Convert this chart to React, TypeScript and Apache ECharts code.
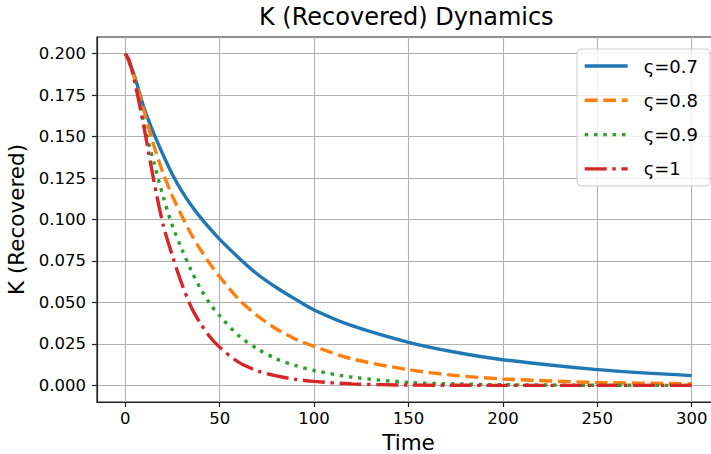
import React, { useEffect, useRef } from "react";
import * as echarts from "echarts";

const TIME = [0, 2, 5, 10, 15, 20, 25, 30, 35, 40, 45, 50, 60, 70, 80, 90, 100, 120, 150, 175, 200, 250, 300];
const K_07 = [0.2, 0.195, 0.186, 0.167, 0.152, 0.139, 0.127, 0.117, 0.1085, 0.101, 0.0943, 0.088, 0.077, 0.067, 0.059, 0.052, 0.0455, 0.036, 0.026, 0.02, 0.0155, 0.0095, 0.0059];
const K_08 = [0.2, 0.195, 0.185, 0.165, 0.145, 0.128, 0.114, 0.102, 0.091, 0.0815, 0.073, 0.0655, 0.052, 0.042, 0.034, 0.028, 0.0235, 0.016, 0.0095, 0.006, 0.0039, 0.0018, 0.001];
const K_09 = [0.2, 0.195, 0.184, 0.157, 0.135, 0.114, 0.096, 0.082, 0.069, 0.058, 0.049, 0.042, 0.03, 0.022, 0.016, 0.012, 0.009, 0.005, 0.0018, 0.0009, 0.0004, 0.0001, 0.0];
const K_10 = [0.2, 0.196, 0.183, 0.155, 0.124, 0.097, 0.078, 0.061, 0.047, 0.037, 0.029, 0.023, 0.014, 0.0088, 0.0057, 0.0037, 0.0024, 0.0009, 0.0002, 0.0001, 0, 0, 0];

const SERIES_NAMES = ["ς=0.7", "ς=0.8", "ς=0.9", "ς=1"];
const X_TICKS = [0, 50, 100, 150, 200, 250, 300];
const Y_TICKS = [0, 0.025, 0.05, 0.075, 0.1, 0.125, 0.15, 0.175, 0.2];

const COLORS = ["#1f77b4", "#ff7f0e", "#2ca02c", "#d62728"];
const FONT = "DejaVu Sans";

export default function App() {
  const ref = useRef<HTMLDivElement>(null);
  useEffect(() => {
    if (!ref.current) return;
    const chart = echarts.init(ref.current, undefined, { renderer: "svg" });
    const values = [K_07, K_08, K_09, K_10];
    const dashes: any[] = ["solid", [12.9, 5.6], [3.5, 5.8], [22, 5.6, 3.5, 5.6]];
    const option: any = {
      animation: false,
      backgroundColor: "#ffffff",
      title: {
        text: "K (Recovered) Dynamics",
        left: 259,
        top: 5,
        padding: 0,
        textStyle: { fontFamily: FONT, fontSize: 24, fontWeight: "normal", color: "#000" },
      },
      grid: {
        left: 97,
        top: 37,
        width: 623,
        height: 365,
        show: true,
        borderColor: "#222",
        borderWidth: 1.2,
        containLabel: false,
        outerBoundsMode: "none",
      },
      legend: {
        orient: "vertical",
        left: 577,
        top: 49,
        padding: [8, 12, 8, 6],
        itemWidth: 43,
        itemHeight: 14,
        itemGap: 16.3,
        backgroundColor: "rgba(255,255,255,0.8)",
        borderColor: "#cccccc",
        borderWidth: 1,
        borderRadius: 4,
        data: SERIES_NAMES,
        itemStyle: { color: "rgba(0,0,0,0)", borderColor: "rgba(0,0,0,0)", borderWidth: 0, opacity: 0 },
        lineStyle: { width: 3.4 },
        textStyle: { fontFamily: FONT, fontSize: 18, color: "#000", padding: [0, 0, 0, 11] },
      },
      xAxis: {
        type: "value",
        min: -15,
        max: 315,
        name: "Time",
        nameLocation: "middle",
        nameGap: 29,
        nameTextStyle: { fontFamily: FONT, fontSize: 21.5, color: "#000" },
        axisLine: { show: true, onZero: false, lineStyle: { color: "#222", width: 1.2 } },
        axisTick: { show: true, length: 5, lineStyle: { color: "#222", width: 1.2 }, customValues: X_TICKS },
        axisLabel: {
          customValues: X_TICKS,
          fontFamily: FONT,
          fontSize: 16.5,
          color: "#000",
          margin: 8,
          formatter: (v: number) => String(v),
        },
        splitLine: { show: true, lineStyle: { color: "#b0b0b0", width: 1.1 } },
      },
      yAxis: {
        type: "value",
        min: -0.01,
        max: 0.21,
        name: "K (Recovered)",
        nameLocation: "middle",
        nameRotate: 90,
        nameGap: 64,
        nameTextStyle: { fontFamily: FONT, fontSize: 21.5, color: "#000" },
        axisLine: { show: true, onZero: false, lineStyle: { color: "#222", width: 1.2 } },
        axisTick: { show: true, length: 5, lineStyle: { color: "#222", width: 1.2 }, customValues: Y_TICKS },
        axisLabel: {
          customValues: Y_TICKS,
          fontFamily: FONT,
          fontSize: 16.5,
          color: "#000",
          margin: 11,
          formatter: (v: number) => v.toFixed(3),
        },
        splitLine: { show: true, lineStyle: { color: "#b0b0b0", width: 1.1 } },
      },
      series: SERIES_NAMES.map((name, i) => ({
        name,
        type: "line",
        data: TIME.map((t, j) => [t, values[i][j]]),
        symbol: "none",
        smooth: 0.3,
        color: COLORS[i],
        lineStyle: { color: COLORS[i], width: 3.4, type: dashes[i], cap: "butt" },
        z: 2 + i,
      })),
    };
    chart.setOption(option);
    return () => chart.dispose();
  }, []);
  return <div ref={ref} style={{ position: "absolute", left: 0, top: 0, width: 711, height: 454 }} />;
}
